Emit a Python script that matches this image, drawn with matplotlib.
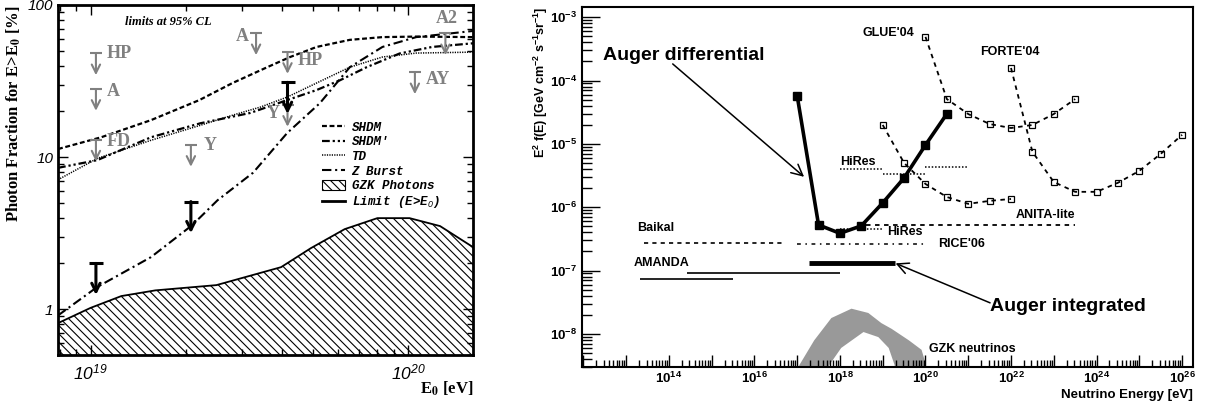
import numpy as np
import matplotlib
matplotlib.use('Agg')
import matplotlib.pyplot as plt
from matplotlib.patches import Patch
from matplotlib.lines import Line2D
from matplotlib.ticker import LogLocator, NullFormatter, FixedLocator, FixedFormatter
from matplotlib.font_manager import FontProperties

plt.rcParams['mathtext.fontset'] = 'custom'
plt.rcParams['mathtext.rm'] = 'Liberation Sans:italic'
plt.rcParams['mathtext.bf'] = 'Liberation Sans:bold'
plt.rcParams['mathtext.it'] = 'Liberation Sans:italic'
plt.rcParams['hatch.linewidth'] = 0.8

# ---------------- left panel data (photon fraction, %) ----------------
shdm_E = [7.9e18, 1.08e19, 1.55e19, 2.2e19, 2.8e19, 3.6e19, 4.25e19, 5.15e19, 6.55e19, 8.3e19, 1.06e20, 1.6e20]
shdm_f = [11.3, 13.5, 17.5, 23.7, 30.7, 39, 45.5, 53, 59, 61.5, 62, 61.5]

shdmp_E = [7.9e18, 1.05e19, 1.55e19, 2.22e19, 3.18e19, 4.16e19, 5.15e19, 6.1e19, 7.4e19, 9.4e19, 1.19e20, 1.6e20]
shdmp_f = [8.5, 9.55, 13.5, 16.7, 19.5, 23.7, 27.6, 32, 39, 48, 53, 56]

td_E = [7.9e18, 1.05e19, 1.55e19, 2.22e19, 2.81e19, 3.42e19, 4.16e19, 5.15e19, 6.55e19, 8.3e19, 1.06e20, 1.6e20]
td_f = [7.1, 9.8, 12.9, 16.2, 18.9, 21.3, 24.8, 30.7, 39, 45.5, 48.3, 49]

zb_E = [7.9e18, 1.05e19, 1.55e19, 2.09e19, 2.51e19, 3.25e19, 4.16e19, 5.27e19, 6.55e19, 8.3e19, 1.06e20, 1.6e20]
zb_f = [0.91, 1.4, 2.2, 3.57, 5.2, 7.9, 14.4, 22.6, 39, 53, 61.5, 67.5]

gzk_E = [7.9e18, 1.0e19, 1.25e19, 1.6e19, 2.49e19, 3.98e19, 4.94e19, 6.31e19, 8.0e19, 1.01e20, 1.26e20, 1.6e20]
gzk_f = [0.81, 1.02, 1.22, 1.33, 1.44, 1.89, 2.52, 3.36, 3.97, 3.97, 3.52, 2.56]

auger_lim_E = [1.04e19, 2.07e19, 4.17e19]
auger_lim_f = [2.0, 5.1, 31]

other_lim_names = ['HP', 'A', 'FD', 'Y', 'A', 'HP', 'Y', 'AY', 'A2']
other_lim_E = [1.04e19, 1.04e19, 1.04e19, 2.07e19, 3.32e19, 4.17e19, 4.17e19, 1.05e20, 1.31e20]
other_lim_f = [48, 28, 13, 12, 65, 49, 22, 36, 65]
# label placement (points offset from the cap, alignment)
other_lim_lab = [(8, 0, 'left'), (8, -2, 'left'), (8, -1, 'left'), (9, 0, 'left'), (-5, -2, 'right'),
                 (7, -6, 'left'), (-6, -6, 'right'), (8, -5, 'left'), (1, 11, 'center')]

# ---------------- right panel data (E^2 f(E), GeV cm^-2 s^-1 sr^-1) ----------------
auger_diff_E = [1e17, 3.16e17, 1e18, 3.16e18, 1e19, 3.16e19, 1e20, 3.16e20]
auger_diff_F = [5.73e-5, 5.26e-7, 3.87e-7, 5.08e-7, 1.17e-6, 2.9e-6, 9.6e-6, 2.98e-5]

glue_E = [1e20, 3.16e20, 1e21, 3.16e21, 1e22, 3.16e22, 1e23, 3.16e23]
glue_F = [4.9e-4, 5.1e-5, 2.96e-5, 2.06e-5, 1.78e-5, 1.99e-5, 2.96e-5, 5.1e-5]

forte_E = [1e22, 3.16e22, 1e23, 3.16e23, 1e24, 3.16e24, 1e25, 3.16e25, 1e26]
forte_F = [1.58e-4, 7.5e-6, 2.5e-6, 1.75e-6, 1.75e-6, 2.43e-6, 3.75e-6, 6.95e-6, 1.39e-5]

third_E = [1e19, 3.16e19, 1e20, 3.16e20, 1e21, 3.16e21, 1e22]
third_F = [1.99e-5, 5.0e-6, 2.33e-6, 1.45e-6, 1.13e-6, 1.26e-6, 1.35e-6]

hires_edges = [1e18, 1e19, 1e20, 1e21]
hires_F = [4.0e-6, 3.35e-6, 4.3e-6]
hires2_E = [1e18, 1e19]
hires2_F = 4.5e-7

anita_E = [4.0e18, 3.2e23]
anita_F = 5.2e-7
rice_E = [1e17, 1.1e20]
rice_F = 2.6e-7
baikal_E = [2.6e13, 4.7e16]
baikal_F = 2.7e-7
amanda1_E = [2.7e14, 1e18]
amanda1_F = 9.2e-8
amanda2_E = [2.1e13, 3.2e15]
amanda2_F = 7.4e-8
auger_int_E = [1.9e17, 1.9e19]
auger_int_F = 1.3e-7

gzk_out_E = [1.05e17, 1.12e17, 2.5e17, 6.3e17, 1.86e18, 4.6e18, 9.3e18, 1.62e19, 4.1e19, 8.1e19, 9.5e19, 9.6e19]
gzk_out_F = [2e-9, 3.2e-9, 7.9e-9, 1.78e-8, 2.5e-8, 2.14e-8, 1.48e-8, 1.2e-8, 7.9e-9, 5.6e-9, 3.9e-9, 2e-9]
gzk_in_E = [5.4e17, 5.6e17, 1.07e18, 3.55e18, 7.9e18, 1.38e19, 1.9e19, 1.95e19]
gzk_in_F = [2e-9, 3.2e-9, 6.0e-9, 1.07e-8, 8.9e-9, 6.0e-9, 3.2e-9, 2e-9]

fig = plt.figure(figsize=(12.07, 4.03), dpi=100)
axL = fig.add_axes([58/1207, 48/403, 415/1207, 350/403])
axR = fig.add_axes([582/1207, 36/403, 611/1207, 360/403])

# ================= left panel =================
axL.set_xscale('log')
axL.set_yscale('log')
axL.set_xlim(7.9e18, 1.6e20)
axL.set_ylim(0.5, 100)

axL.fill_between(gzk_E, 0.3, gzk_f, facecolor='white', edgecolor='black', hatch='\\\\\\\\', lw=0)
axL.plot(gzk_E, gzk_f, color='black', lw=1.3)

axL.plot(shdm_E, shdm_f, color='black', lw=1.6, ls=(0, (2.2, 1.2)))
axL.plot(shdmp_E, shdmp_f, color='black', lw=1.6, ls=(0, (3.5, 1.3, 1, 1.3, 1, 1.3)))
axL.plot(td_E, td_f, color='black', lw=1.1, ls=(0, (0.8, 0.8)))
axL.plot(zb_E, zb_f, color='black', lw=1.5, ls=(0, (4.5, 1.8, 1, 1.8)))

grey = '#808080'
for e, f, name, (dx, dy, ha) in zip(other_lim_E, other_lim_f, other_lim_names, other_lim_lab):
    axL.plot([e], [f], marker='_', ms=9, mew=1.5, color=grey)
    axL.annotate('', xy=(e, f * 0.72), xytext=(e, f),
                 arrowprops=dict(arrowstyle='->,head_length=0.6,head_width=0.3', lw=1.5,
                                 color=grey, shrinkA=0, shrinkB=0))
    axL.annotate(name, xy=(e, f), xytext=(dx, dy), textcoords='offset points', ha=ha, va='center',
                 fontsize=13, fontweight='bold', family='Liberation Serif', color=grey)

for e, f in zip(auger_lim_E, auger_lim_f):
    axL.plot([e], [f], marker='_', ms=10, mew=2.2, color='black')
    axL.annotate('', xy=(e, f * 0.62), xytext=(e, f),
                 arrowprops=dict(arrowstyle='->,head_length=0.6,head_width=0.3', lw=2.2,
                                 color='black', shrinkA=0, shrinkB=0))

axL.text(1.76e19, 77, 'limits at 95% CL', ha='center', va='center', fontsize=9,
         family='Liberation Serif', style='italic', fontweight='bold')

leg_handles = [Line2D([], [], color='black', lw=1.6, ls=(0, (2.2, 1.2))),
               Line2D([], [], color='black', lw=1.6, ls=(0, (3.5, 1.3, 1, 1.3, 1, 1.3))),
               Line2D([], [], color='black', lw=1.1, ls=(0, (0.8, 0.8))),
               Line2D([], [], color='black', lw=1.5, ls=(0, (4.5, 1.8, 1, 1.8))),
               Patch(facecolor='white', edgecolor='black', hatch='\\\\\\\\', lw=0.8),
               Line2D([], [], color='black', lw=2)]
leg_labels = ['SHDM', "SHDM'", 'TD', 'Z Burst', 'GZK Photons', r'Limit (E>E$_0$)']
leg = axL.legend(leg_handles, leg_labels, loc='upper left', bbox_to_anchor=(0.635, 0.668),
                 frameon=False, prop=FontProperties(family='Liberation Mono', style='italic',
                                                    weight='bold', size=9),
                 handlelength=1.9, handleheight=0.9, handletextpad=0.5, labelspacing=0.17,
                 borderpad=0, borderaxespad=0)

axL.set_yticks([1, 10, 100], labels=['1', '10', '100'])
axL.set_xticks([1e19, 1e20], labels=[r'$10^{19}$', r'$10^{20}$'])
axL.xaxis.set_minor_locator(LogLocator(base=10, subs=np.arange(2, 10)))
axL.yaxis.set_minor_locator(LogLocator(base=10, subs=np.arange(2, 10)))
axL.xaxis.set_minor_formatter(NullFormatter())
axL.yaxis.set_minor_formatter(NullFormatter())
axL.tick_params(which='both', direction='in', top=True, right=True, width=1)
axL.tick_params(which='major', length=7)
axL.tick_params(which='minor', length=4)
axL.tick_params(axis='y', pad=3.5)
axL.tick_params(axis='x', pad=6)
for lab in axL.get_yticklabels():
    lab.set_fontfamily('Liberation Sans')
    lab.set_style('italic')
    lab.set_fontsize(11)
for lab in axL.get_xticklabels():
    lab.set_fontsize(12.5)
for s in axL.spines.values():
    s.set_linewidth(2)

axL.set_ylabel(r'Photon Fraction for E>E$_\mathbf{0}$ [%]', loc='top', fontsize=12,
               family='Liberation Serif', fontweight='bold', math_fontfamily='stix')
axL.yaxis.set_label_coords(-0.085, 1.0)
axL.set_xlabel(r'E$_\mathbf{0}$ [eV]', loc='right', fontsize=12, family='Liberation Serif',
               fontweight='bold', math_fontfamily='stix')
axL.xaxis.set_label_coords(1.0, -0.07)

# ================= right panel =================
axR.set_xscale('log')
axR.set_yscale('log')
axR.set_xlim(9.3e11, 1.8e26)
axR.set_ylim(3.0e-9, 1.45e-3)

gray_band = '#999999'
axR.fill(list(gzk_out_E) + list(gzk_in_E[::-1]), list(gzk_out_F) + list(gzk_in_F[::-1]),
         color=gray_band, lw=0)

dash = (0, (2.5, 2.5))
axR.plot(glue_E, glue_F, color='black', lw=1.3, ls=dash, marker='s', ms=5, mfc='none', mec='black', mew=0.9)
axR.plot(forte_E, forte_F, color='black', lw=1.3, ls=dash, marker='s', ms=5, mfc='none', mec='black', mew=0.9)
axR.plot(third_E, third_F, color='black', lw=1.3, ls=dash, marker='s', ms=5, mfc='none', mec='black', mew=0.9)

axR.hlines(hires_F, hires_edges[:-1], hires_edges[1:], colors='black', lw=1.1, linestyles=[(0, (1, 1.2))])
axR.hlines(hires2_F, hires2_E[0], hires2_E[1], colors='black', lw=1.1, linestyles=[(0, (1, 1.2))])
axR.hlines(anita_F, anita_E[0], anita_E[1], colors='black', lw=1.3, linestyles=[(0, (2.5, 2.5))])
axR.hlines(rice_F, rice_E[0], rice_E[1], colors='black', lw=1.1, linestyles=[(0, (2.5, 3, 1, 3))])
axR.hlines(baikal_F, baikal_E[0], baikal_E[1], colors='black', lw=1.2, linestyles=[(0, (2.5, 2.5))])
axR.hlines(amanda1_F, amanda1_E[0], amanda1_E[1], colors='black', lw=1.2)
axR.hlines(amanda2_F, amanda2_E[0], amanda2_E[1], colors='black', lw=1.2)
axR.hlines(auger_int_F, auger_int_E[0], auger_int_E[1], colors='black', lw=3.5)

axR.plot(auger_diff_E, auger_diff_F, color='black', lw=2.6, marker='s', ms=5.5)

sans_b = dict(family='Liberation Sans', fontweight='bold')
axR.text(1.36e19, 5.65e-4, "GLUE'04", ha='center', va='center', fontsize=9, **sans_b)
axR.text(9.5e21, 2.83e-4, "FORTE'04", ha='center', va='center', fontsize=9, **sans_b)
axR.text(2.57e18, 5.2e-6, 'HiRes', ha='center', va='center', fontsize=9, **sans_b)
axR.text(3.24e19, 4.1e-7, 'HiRes', ha='center', va='center', fontsize=9, **sans_b)
axR.text(6.3e22, 7.6e-7, 'ANITA-lite', ha='center', va='center', fontsize=9, **sans_b)
axR.text(1.95e20, 2.64e-7, "RICE'06", ha='left', va='center', fontsize=9, **sans_b)
axR.text(1.82e13, 4.7e-7, 'Baikal', ha='left', va='center', fontsize=9, **sans_b)
axR.text(1.48e13, 1.32e-7, 'AMANDA', ha='left', va='center', fontsize=9, **sans_b)
axR.text(1.23e21, 5.8e-9, 'GZK neutrinos', ha='center', va='center', fontsize=9, **sans_b)

axR.text(2.92e12, 2.45e-4, 'Auger differential', ha='left', va='center', fontsize=14, **sans_b)
axR.annotate('', xy=(1.45e17, 3.02e-6), xytext=(1.23e14, 1.83e-4),
             arrowprops=dict(arrowstyle='->,head_length=0.8,head_width=0.4', lw=1.1, color='black',
                             shrinkA=0, shrinkB=0))
axR.text(3.24e21, 2.67e-8, 'Auger integrated', ha='left', va='center', fontsize=14, **sans_b)
axR.annotate('', xy=(2.0e19, 1.3e-7), xytext=(3.24e21, 3.09e-8),
             arrowprops=dict(arrowstyle='->,head_length=0.8,head_width=0.4', lw=1.1, color='black',
                             shrinkA=0, shrinkB=0))

xmaj = [10.0 ** k for k in range(12, 27)]
axR.xaxis.set_major_locator(FixedLocator(xmaj))
axR.xaxis.set_major_formatter(FixedFormatter(
    [r'$\mathbf{10^{%d}}$' % k if (k % 2 == 0 and k >= 14) else '' for k in range(12, 27)]))
axR.xaxis.set_minor_locator(LogLocator(base=10, subs=np.arange(2, 10), numticks=100))
axR.xaxis.set_minor_formatter(NullFormatter())
ymaj = [10.0 ** k for k in range(-8, -2)]
axR.yaxis.set_major_locator(FixedLocator(ymaj))
axR.yaxis.set_major_formatter(FixedFormatter([r'$\mathbf{10^{%d}}$' % k for k in range(-8, -2)]))
axR.yaxis.set_minor_locator(LogLocator(base=10, subs=np.arange(2, 10), numticks=100))
axR.yaxis.set_minor_formatter(NullFormatter())
axR.tick_params(which='both', direction='in', top=False, right=False, width=1)
axR.tick_params(axis='x', which='major', length=9, pad=3, labelsize=9.5)
axR.tick_params(axis='x', which='minor', length=5)
axR.tick_params(axis='y', which='major', length=13, pad=3.5, labelsize=9.5)
axR.tick_params(axis='y', which='minor', length=7)
for s in axR.spines.values():
    s.set_linewidth(1.5)

axR.set_ylabel(r'E$^{\mathbf{2}}$ f(E) [GeV cm$^{\mathbf{-2}}$ s$^{\mathbf{-1}}$sr$^{\mathbf{-1}}$]',
               loc='top', fontsize=9, **sans_b)
axR.yaxis.set_label_coords(-0.052, 1.0)
axR.set_xlabel('Neutrino Energy [eV]', loc='right', fontsize=9.5, **sans_b)
axR.xaxis.set_label_coords(1.0, -0.062)

fig.savefig('out.png', dpi=100)
